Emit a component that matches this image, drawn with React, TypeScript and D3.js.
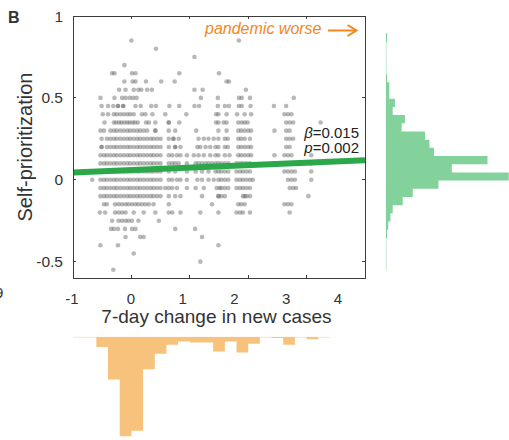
import React from "react";
import * as d3 from "d3";

// rows of the scatter: self-prioritization value and the x values (7-day change) at that level
const rowY = [
  0.85, 0.8, 0.75, 0.7, 0.65, 0.6, 0.55, 0.5, 0.45, 0.4, 0.35, 0.3, 0.25, 0.2, 0.15, 0.1, 0.05, 0,
  -0.05, -0.1, -0.15, -0.2, -0.25, -0.3, -0.35, -0.4, -0.45, -0.5, -0.55,
];
const rowX = [
  [0.0, 1.84],
  [0.42],
  [1.08],
  [-0.12],
  [-0.33, -0.29, 0.01, 0.07, 0.82, 1.5],
  [-0.12, 0.02, 0.07, 0.25, 0.51, 0.74, 1.63, 1.67],
  [-0.21, -0.1, 0.04, 0.12, 0.17, 0.27, 0.35, 1.08, 1.22, 1.96],
  [-0.53, -0.29, -0.16, -0.1, -0.03, 0.03, 0.09, 1.19, 1.48, 1.84, 1.89, 2.03, 2.78],
  [-0.51, -0.4, -0.31, -0.23, -0.23, -0.14, -0.14, 0.07, 0.16, 0.34, 0.42, 0.65, 0.82, 1.08, 1.16, 1.48, 1.6, 1.67, 1.84, 1.89, 2.04, 2.44, 2.65],
  [-0.49, -0.4, -0.3, -0.25, -0.19, -0.13, -0.07, -0.02, 0.04, 0.18, 0.24, 0.36, 0.58, 0.94, 1.45, 1.49, 1.63, 1.81, 1.94, 2.05, 2.62, 2.68, 2.74],
  [-0.46, -0.3, -0.26, -0.21, -0.17, -0.12, -0.07, -0.03, 0.02, 0.06, 0.11, 0.25, 0.3, 0.41, 0.64, 0.64, 0.82, 1.45, 1.49, 1.58, 1.63, 1.83, 1.89, 1.94, 1.99, 2.65, 2.71, 2.77, 3.24],
  [-0.53, -0.47, -0.36, -0.3, -0.25, -0.19, -0.13, -0.07, -0.02, 0.04, 0.1, 0.15, 0.21, 0.27, 0.41, 0.41, 0.64, 0.75, 1.11, 1.49, 1.63, 1.83, 1.88, 1.94, 2.0, 2.05, 2.45, 2.65, 2.71],
  [-0.51, -0.42, -0.36, -0.3, -0.25, -0.19, -0.13, -0.07, -0.02, 0.04, 0.1, 0.15, 0.21, 0.27, 0.33, 0.38, 0.44, 0.5, 0.64, 0.72, 0.72, 0.81, 1.15, 1.24, 1.32, 1.41, 1.49, 1.6, 1.65, 1.83, 1.88, 1.94, 2.03, 2.65, 2.71, 2.77],
  [-0.51, -0.51, -0.42, -0.36, -0.3, -0.25, -0.19, -0.13, -0.07, -0.02, 0.04, 0.1, 0.15, 0.21, 0.27, 0.33, 0.38, 0.44, 0.5, 0.64, 0.75, 0.75, 0.84, 1.13, 1.18, 1.27, 1.35, 1.44, 1.49, 1.6, 1.65, 1.83, 1.88, 1.94, 2.0, 2.05, 2.65, 2.71],
  [-0.53, -0.47, -0.42, -0.36, -0.3, -0.25, -0.19, -0.13, -0.07, -0.02, 0.04, 0.1, 0.15, 0.21, 0.27, 0.33, 0.38, 0.44, 0.5, 0.64, 0.7, 0.78, 0.84, 0.95, 1.07, 1.15, 1.24, 1.35, 1.44, 1.49, 1.6, 1.68, 1.83, 1.88, 1.94, 2.0, 2.05, 2.45, 2.62, 2.68, 2.74, 3.08],
  [-0.53, -0.47, -0.42, -0.36, -0.3, -0.25, -0.19, -0.13, -0.07, -0.02, 0.04, 0.1, 0.15, 0.21, 0.27, 0.33, 0.38, 0.44, 0.5, 0.64, 0.7, 0.75, 0.81, 0.95, 1.1, 1.15, 1.21, 1.27, 1.32, 1.38, 1.44, 1.49, 1.54, 1.6, 1.66, 1.8, 1.86, 1.91, 1.97, 2.03, 2.45, 2.62, 2.68, 2.74, 2.8, 3.08],
  [-0.53, -0.47, -0.42, -0.36, -0.3, -0.25, -0.19, -0.13, -0.07, -0.02, 0.04, 0.1, 0.15, 0.21, 0.27, 0.33, 0.38, 0.44, 0.5, 0.64, 0.75, 0.95, 1.1, 1.21, 1.32, 1.44, 1.49, 1.54, 1.6, 1.66, 1.8, 1.86, 1.91, 1.97, 2.03, 2.62, 2.68, 2.74, 2.8, 3.08],
  [-0.67, -0.53, -0.47, -0.42, -0.36, -0.3, -0.25, -0.19, -0.13, -0.07, -0.02, 0.04, 0.1, 0.15, 0.21, 0.27, 0.33, 0.38, 0.44, 0.5, 0.64, 0.7, 0.78, 0.84, 0.95, 1.13, 1.21, 1.32, 1.41, 1.49, 1.54, 1.6, 1.66, 1.8, 1.86, 1.91, 1.97, 2.03, 2.08, 2.68, 2.74, 2.8, 3.08],
  [-0.53, -0.47, -0.42, -0.36, -0.3, -0.25, -0.19, -0.13, -0.07, -0.02, 0.04, 0.1, 0.15, 0.21, 0.27, 0.33, 0.38, 0.44, 0.5, 0.58, 0.64, 0.7, 0.78, 0.95, 1.1, 1.24, 1.46, 1.51, 1.54, 1.6, 1.66, 1.8, 1.86, 1.91, 1.97, 2.03, 2.71, 2.77, 2.82],
  [-0.53, -0.47, -0.42, -0.36, -0.3, -0.25, -0.19, -0.13, -0.07, -0.02, 0.04, 0.1, 0.15, 0.21, 0.27, 0.33, 0.38, 0.44, 0.5, 0.64, 0.75, 0.84, 1.21, 1.49, 1.49, 1.54, 1.6, 1.91, 1.94, 1.97, 2.03, 3.03],
  [-0.47, -0.42, -0.28, -0.22, -0.16, -0.1, -0.05, 0.01, 0.07, 0.12, 0.18, 0.24, 0.3, 0.38, 0.64, 1.38, 1.83, 1.88, 1.94, 2.62, 2.68, 2.74],
  [-0.54, -0.45, -0.28, -0.22, -0.16, -0.1, 0.04, 0.21, 0.41, 0.64, 0.7, 0.84, 1.18, 1.49, 1.8, 1.86, 1.91, 2.03, 2.71],
  [-0.33, -0.22, -0.16, -0.1, -0.05, 0.01, 0.12, 0.47],
  [-0.35, -0.3, -0.23, -0.11, 0.01, 0.07, 0.75, 1.09],
  [-0.1, 0.15, 0.21, 1.21],
  [-0.53, -0.23, 1.49],
  [0.04],
  [1.18],
  [-0.31],
];

// fitted line
const fitIntercept = 0.059;
const fitSlope = 0.015;

// histogram of self-prioritization (right), one bin per row
const yHistRows = [
  0.85, 0.8, 0.75, 0.7, 0.65, 0.6, 0.55, 0.5, 0.45, 0.4, 0.35, 0.3, 0.25, 0.2, 0.15, 0.1, 0.05, 0,
  -0.05, -0.1, -0.15, -0.2, -0.25, -0.3, -0.35, -0.4, -0.45, -0.5, -0.55,
];
const yHistCounts = [1, 0, 0, 0, 0, 1, 3, 3, 8, 6, 17, 14, 35, 39, 43, 91, 59, 110, 47, 24, 15, 6, 4, 2, 1, 0, 0, 0, 0];

// histogram of 7-day change (bottom), bins of 0.2 starting at -1
const xHistStart = [
  -1, -0.8, -0.6, -0.4, -0.2, 0, 0.2, 0.4, 0.6, 0.8, 1, 1.2, 1.4, 1.6, 1.8, 2, 2.2, 2.4, 2.6, 2.8, 3, 3.2,
];
const xHistCounts = [0, 0, 9, 38, 89, 84, 29, 15, 7, 4, 5, 5, 13, 4, 14, 6, 0, 1, 7, 0, 2, 0];

const xTicks = [-1, 0, 1, 2, 3, 4];
const yTicks = [-0.5, 0, 0.5, 1];
const yTickLabels = ["-0.5", "0", "0.5", "1"];

const font = "'Liberation Sans', Arial, sans-serif";

export default function App() {
  const width = 509;
  const height = 440;

  const x = d3.scaleLinear().domain([-1, 4]).range([73, 365]);
  const y = d3.scaleLinear().domain([-0.6, 1]).range([278, 16]);
  // tick labels in the original sit on a slightly compressed scale
  const xLab = d3.scaleLinear().domain([-1, 0, 4]).range([72, 131, 338]);

  const hy = d3.scaleLinear().domain([0, 110]).range([0, 122.7]);
  const hx = d3.scaleLinear().domain([0, 89]).range([0, 99.3]);
  const greenBase = 386;
  const orangeBase = 337;

  const points: { px: number; py: number }[] = [];
  rowY.forEach((v, i) => {
    rowX[i].forEach((xv) => points.push({ px: x(xv), py: y(v) }));
  });

  const axisColor = "#3d3d3d";
  const tickLen = 3;

  const yLo = d3.min(yHistRows)! - 0.005;
  const yHi = d3.max(yHistRows)! + 0.045;
  const xLo = xHistStart[0];
  const xHi = xHistStart[xHistStart.length - 1] + 0.2;

  // step outlines so adjacent bins merge without seams
  const greenPath = d3.path();
  greenPath.moveTo(greenBase, y(yHi));
  yHistRows.forEach((r, i) => {
    const w = hy(yHistCounts[i]);
    greenPath.lineTo(greenBase + w, y(r + 0.045));
    greenPath.lineTo(greenBase + w, y(r - 0.005));
  });
  greenPath.lineTo(greenBase, y(yLo));
  greenPath.closePath();

  const orangePath = d3.path();
  orangePath.moveTo(x(xLo), orangeBase);
  xHistStart.forEach((s, i) => {
    const h = hx(xHistCounts[i]);
    orangePath.lineTo(x(s), orangeBase + h);
    orangePath.lineTo(x(s + 0.2), orangeBase + h);
  });
  orangePath.lineTo(x(xHi), orangeBase);
  orangePath.closePath();

  return (
    <div style={{ position: "fixed", left: 0, top: 0 }}>
      <svg width={width} height={height} style={{ display: "block", background: "#fff" }}>
        <defs>
          <clipPath id="plotClip">
            <rect x={x(-1)} y={y(1)} width={x(4) - x(-1)} height={y(-0.6) - y(1)} />
          </clipPath>
        </defs>

        <text x={8} y={23} fontFamily={font} fontWeight="bold" fontSize={16} fill="#333">
          B
        </text>
        <text x={-5} y={298} fontFamily={font} fontSize={15} fill="#333">
          9
        </text>

        {/* scatter */}
        <g>
          {points.map((p, i) => (
            <circle key={i} cx={p.px} cy={p.py} r={2.3} fill="#6a6a6a" fillOpacity={0.48} />
          ))}
        </g>

        {/* regression line */}
        <line
          clipPath="url(#plotClip)"
          x1={x(-1)}
          y1={y(fitIntercept + fitSlope * -1)}
          x2={x(4)}
          y2={y(fitIntercept + fitSlope * 4)}
          stroke="#2ba84a"
          strokeWidth={6}
        />

        {/* frame */}
        <rect
          x={x(-1)}
          y={y(1)}
          width={x(4) - x(-1)}
          height={y(-0.6) - y(1)}
          fill="none"
          stroke={axisColor}
          strokeWidth={1}
          shapeRendering="crispEdges"
        />
        {xTicks.map((t) => (
          <g key={"xt" + t} stroke={axisColor} shapeRendering="crispEdges">
            <line x1={x(t)} x2={x(t)} y1={y(-0.6)} y2={y(-0.6) - tickLen} />
            <line x1={x(t)} x2={x(t)} y1={y(1)} y2={y(1) + tickLen} />
          </g>
        ))}
        {yTicks.map((t) => (
          <g key={"yt" + t} stroke={axisColor} shapeRendering="crispEdges">
            <line x1={x(-1)} x2={x(-1) + tickLen} y1={y(t)} y2={y(t)} />
            <line x1={x(4)} x2={x(4) - tickLen} y1={y(t)} y2={y(t)} />
          </g>
        ))}

        {/* tick labels */}
        {xTicks.map((t) => (
          <text key={"xl" + t} x={xLab(t)} y={303.5} textAnchor="middle" fontFamily={font} fontSize={15} fill="#333">
            {t}
          </text>
        ))}
        {yTicks.map((t, i) => (
          <text
            key={"yl" + t}
            x={63}
            y={y(t)}
            dy="0.36em"
            textAnchor="end"
            fontFamily={font}
            fontSize={15.5}
            fill="#333"
          >
            {yTickLabels[i]}
          </text>
        ))}

        {/* axis titles */}
        <text x={216.5} y={322.5} textAnchor="middle" fontFamily={font} fontSize={19} fill="#333">
          7-day change in new cases
        </text>
        <text
          transform={`translate(32,147) rotate(-90)`}
          textAnchor="middle"
          fontFamily={font}
          fontSize={20}
          fill="#333"
        >
          Self-prioritization
        </text>

        {/* annotation */}
        <text x={205} y={34} fontFamily={font} fontStyle="italic" fontSize={16} fill="#f2871f">
          pandemic worse
        </text>
        <g stroke="#f2871f" strokeWidth={2} fill="none">
          <line x1={328} x2={356} y1={30.5} y2={30.5} />
          <polyline points="347.5,25 356.5,30.5 347.5,36" />
        </g>

        <text x={359} y={137.5} textAnchor="end" fontFamily={font} fontSize={15} fill="#222">
          <tspan fontStyle="italic">β</tspan>=0.015
        </text>
        <text x={359} y={152.5} textAnchor="end" fontFamily={font} fontSize={15} fill="#222">
          <tspan fontStyle="italic">p</tspan>=0.002
        </text>

        {/* right histogram */}
        <line x1={greenBase + 0.3} x2={greenBase + 0.3} y1={y(yHi)} y2={y(yLo)} stroke="#c6ebd2" strokeWidth={1} />
        <path d={greenPath.toString()} fill="#84d29b" />

        {/* bottom histogram */}
        <line x1={x(xLo)} x2={x(xHi)} y1={orangeBase + 0.3} y2={orangeBase + 0.3} stroke="#fbe3c3" strokeWidth={1} />
        <path d={orangePath.toString()} fill="#f7c27b" />
      </svg>
    </div>
  );
}
